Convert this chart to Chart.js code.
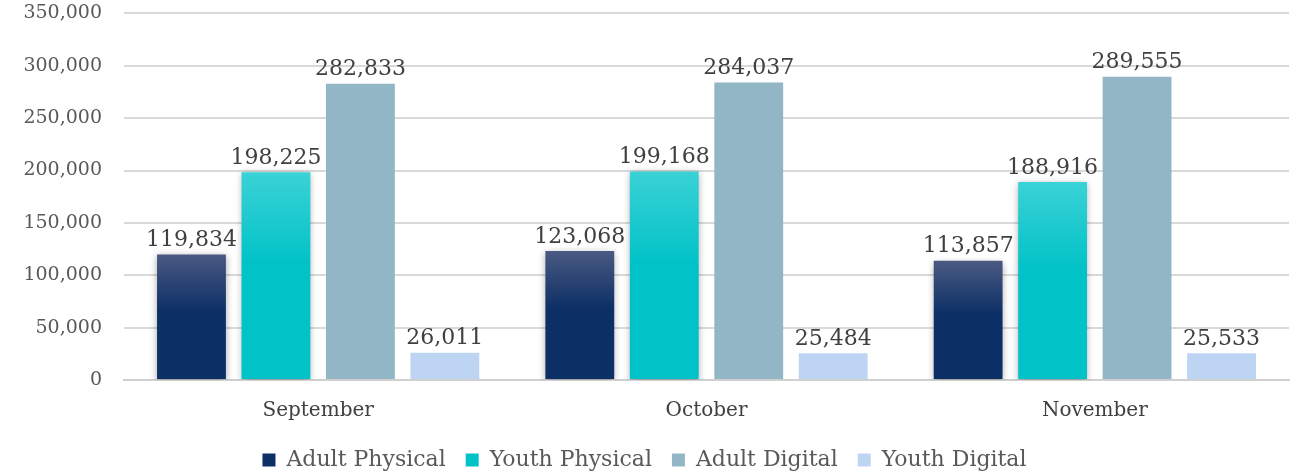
<!DOCTYPE html>
<html>
<head>
<meta charset="utf-8">
<script src="https://cdn.jsdelivr.net/npm/chart.js@4"></script>
<style>
  html, body { margin: 0; padding: 0; background: #fff; overflow: hidden; }
  #frame { width: 1294px; height: 476px; overflow: hidden; position: relative; }
  #wrap { width: 1294px; height: 496px; position: absolute; top: -20px; left: 0; }
</style>
</head>
<body>
<div id="frame"><div id="wrap"><canvas id="salesChart"></canvas></div></div>
<script>
const months = ["September", "October", "November"];
const seriesNames = ["Adult Physical", "Youth Physical", "Adult Digital", "Youth Digital"];
const adultPhysical = [119834, 123068, 113857];
const youthPhysical = [198225, 199168, 188916];
const adultDigital = [282833, 284037, 289555];
const youthDigital = [26011, 25484, 25533];
const yTicks = [0, 50000, 100000, 150000, 200000, 250000, 300000, 350000];

const SERIF = "'DejaVu Serif', 'Liberation Serif', serif";

// vertical gradient per bar, lighter at the top
function barGradient(top, bottom) {
  return ctx => {
    const chart = ctx.chart;
    if (!chart.chartArea || ctx.parsed == null) return bottom;
    const y = chart.scales.y;
    const y0 = y.getPixelForValue(ctx.parsed.y);
    const y1 = y.getPixelForValue(0);
    const g = chart.ctx.createLinearGradient(0, y0, 0, y1);
    g.addColorStop(0, top);
    g.addColorStop(0.45, bottom);
    g.addColorStop(1, bottom);
    return g;
  };
}

const shadowPlugin = {
  id: "shadow",
  beforeDatasetDraw(chart, args) {
    if (args.index > 1) return;
    const c = chart.ctx;
    c.save();
    c.shadowColor = "rgba(0,0,0,0.35)";
    c.shadowBlur = 7;
    c.shadowOffsetY = 2;
  },
  afterDatasetDraw(chart, args) {
    if (args.index > 1) return;
    chart.ctx.restore();
  }
};

const valueLabels = {
  id: "valueLabels",
  afterDatasetsDraw(chart) {
    const c = chart.ctx;
    c.save();
    c.font = "22px " + SERIF;
    c.fillStyle = "#404040";
    c.textAlign = "center";
    c.textBaseline = "bottom";
    chart.data.datasets.forEach((ds, i) => {
      chart.getDatasetMeta(i).data.forEach((bar, j) => {
        c.fillText(ds.data[j].toLocaleString("en-US"), bar.x, bar.y - 3);
      });
    });
    c.restore();
  }
};

new Chart(document.getElementById("salesChart"), {
  type: "bar",
  data: {
    labels: months,
    datasets: [
      { label: seriesNames[0], data: adultPhysical, backgroundColor: barGradient("#4a5a82", "#0c2f66") },
      { label: seriesNames[1], data: youthPhysical, backgroundColor: barGradient("#3ad2d6", "#00c2c7") },
      { label: seriesNames[2], data: adultDigital, backgroundColor: "#93b6c7" },
      { label: seriesNames[3], data: youthDigital, backgroundColor: "#bdd5f3" }
    ]
  },
  options: {
    responsive: true,
    maintainAspectRatio: false,
    animation: false,
    categoryPercentage: 0.87,
    barPercentage: 0.815,
    layout: { padding: { top: 4, right: 5, left: 0, bottom: -5 } },
    plugins: {
      tooltip: { enabled: false },
      legend: {
        position: "bottom",
        labels: {
          font: { family: SERIF, size: 22 },
          color: "#595959",
          boxWidth: 13,
          boxHeight: 13,
          padding: 20,
          generateLabels(chart) {
            const solid = ["#0c2f66", "#00c2c7", "#93b6c7", "#bdd5f3"];
            return chart.data.datasets.map((ds, i) => ({
              text: ds.label, fillStyle: solid[i], strokeStyle: solid[i],
              lineWidth: 0, datasetIndex: i, fontColor: "#595959"
            }));
          }
        }
      }
    },
    scales: {
      x: {
        grid: { display: false },
        border: { color: "#d0d0d0", width: 2 },
        afterFit(scale) { scale.height -= 5; },
        ticks: { font: { family: SERIF, size: 20 }, color: "#404040", padding: 11 }
      },
      y: {
        min: 0,
        max: 350000,
        afterBuildTicks(scale) { scale.ticks = yTicks.map(v => ({ value: v })); },
        afterFit(scale) { scale.width = 124; },
        grid: { color: "#d9d9d9", lineWidth: 2, drawTicks: false },
        border: { display: false },
        ticks: {
          font: { family: SERIF, size: 19 },
          color: "#595959",
          padding: 22,
          callback: v => v.toLocaleString("en-US")
        }
      }
    }
  },
  plugins: [shadowPlugin, valueLabels]
});
</script>
</body>
</html>
